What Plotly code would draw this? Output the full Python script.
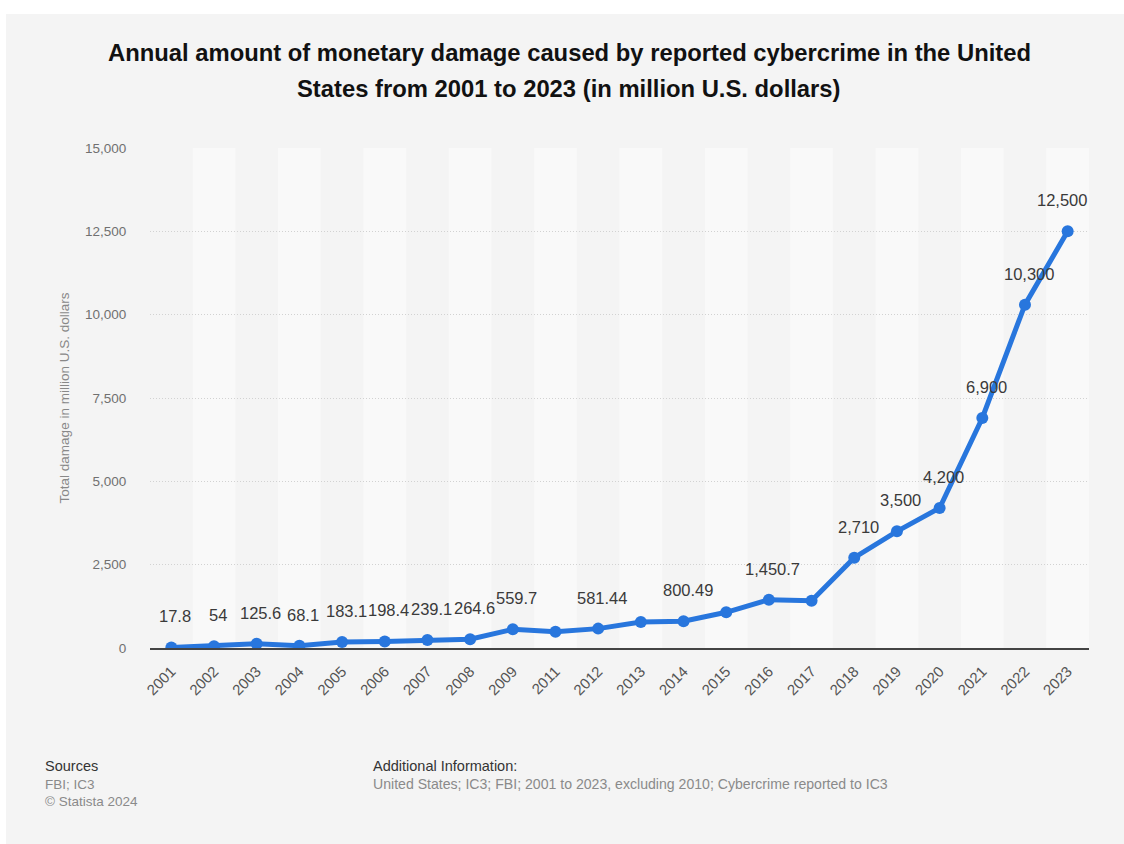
import plotly.graph_objects as go

years = ["2001", "2002", "2003", "2004", "2005", "2006", "2007", "2008", "2009",
         "2011", "2012", "2013", "2014", "2015", "2016", "2017", "2018", "2019",
         "2020", "2021", "2022", "2023"]
damage = [17.8, 54, 125.6, 68.1, 183.1, 198.4, 239.1, 264.6, 559.7,
          485.3, 581.44, 781.84, 800.49, 1070.71, 1450.7, 1418.7, 2710, 3500,
          4200, 6900, 10300, 12500]
point_labels = ["17.8", "54", "125.6", "68.1", "183.1", "198.4", "239.1", "264.6", "559.7",
                "", "581.44", "", "800.49", "", "1,450.7", "", "2,710", "3,500",
                "4,200", "6,900", "10,300", "12,500"]
y_ticks = [0, 2500, 5000, 7500, 10000, 12500, 15000]

title_lines = ["Annual amount of monetary damage caused by reported cybercrime in the United",
               "States from 2001 to 2023 (in million U.S. dollars)"]
y_title = "Total damage in million U.S. dollars"
sources_head = "Sources"
sources_lines = ["FBI; IC3", "© Statista 2024"]
info_head = "Additional Information:"
info_text = "United States; IC3; FBI; 2001 to 2023, excluding 2010; Cybercrime reported to IC3"

FONT = "Liberation Sans, Arial, sans-serif"
W, H = 1124, 844
ML, MR, MT, MB = 150, 35, 148, 196
PW = W - ML - MR
PH = H - MT - MB


def px_x(px):
    return (px - ML) / PW


def px_y(py):
    return (H - MB - py) / PH


fig = go.Figure()
fig.add_trace(go.Scatter(
    x=years, y=damage, mode="lines+markers",
    line=dict(color="#2876dd", width=5),
    marker=dict(color="#2876dd", size=12),
    hoverinfo="x+y", showlegend=False,
))

shapes = [dict(type="rect", xref="paper", yref="paper",
               x0=px_x(6), x1=px_x(W), y0=px_y(H), y1=px_y(14),
               fillcolor="#f4f4f4", line=dict(width=0), layer="below")]
for i, yr in enumerate(years):
    if i % 2 == 1:
        shapes.append(dict(type="rect", xref="x", yref="paper",
                           x0=i - 0.5, x1=i + 0.5, y0=0, y1=1,
                           fillcolor="#f9f9f9", line=dict(width=0), layer="below"))

annotations = []
last = len(damage) - 1
for i, (v, lab) in enumerate(zip(damage, point_labels)):
    if lab:
        annotations.append(dict(xref="x", yref="y", x=i, y=v, text=lab, showarrow=False,
                                xshift=(-6 if i == last else 4), yshift=31,
                                xanchor="center", yanchor="middle",
                                font=dict(family=FONT, size=16.5, color="#3a3a3a")))

annotations.append(dict(xref="paper", yref="paper", x=px_x(569), y=px_y(52),
                        text="<b>" + title_lines[0] + "</b>", showarrow=False,
                        xanchor="center", yanchor="middle",
                        font=dict(family=FONT, size=23.8, color="#111111")))
annotations.append(dict(xref="paper", yref="paper", x=px_x(569), y=px_y(89),
                        text="<b>" + title_lines[1] + "</b>", showarrow=False,
                        xanchor="center", yanchor="middle",
                        font=dict(family=FONT, size=23.8, color="#111111")))

annotations.append(dict(xref="paper", yref="paper", x=px_x(43), y=px_y(766),
                        text=sources_head, showarrow=False, xanchor="left", yanchor="middle",
                        font=dict(family=FONT, size=14.5, color="#333333")))
for j, s in enumerate(sources_lines):
    annotations.append(dict(xref="paper", yref="paper", x=px_x(43), y=px_y(784 + 17 * j),
                            text=s, showarrow=False, xanchor="left", yanchor="middle",
                            font=dict(family=FONT, size=13.5, color="#8a8a8a")))
annotations.append(dict(xref="paper", yref="paper", x=px_x(371), y=px_y(766),
                        text=info_head, showarrow=False, xanchor="left", yanchor="middle",
                        font=dict(family=FONT, size=14.5, color="#333333")))
annotations.append(dict(xref="paper", yref="paper", x=px_x(371), y=px_y(784),
                        text=info_text, showarrow=False, xanchor="left", yanchor="middle",
                        font=dict(family=FONT, size=14.1, color="#8a8a8a")))

fig.update_layout(
    width=W, height=H,
    margin=dict(l=ML, r=MR, t=MT, b=MB),
    paper_bgcolor="#ffffff",
    plot_bgcolor="rgba(0,0,0,0)",
    shapes=shapes,
    annotations=annotations,
    font=dict(family=FONT),
    xaxis=dict(
        type="category", categoryorder="array", categoryarray=years,
        tickangle=-45, tickfont=dict(family=FONT, size=15, color="#555555"),
        showgrid=False, showline=True, linecolor="#444444", linewidth=1.5,
        ticks="outside", ticklen=7, tickcolor="rgba(0,0,0,0)",
        range=[-0.5, len(years) - 0.5], fixedrange=True,
    ),
    yaxis=dict(
        range=[0, 15000], tickvals=y_ticks, tickformat=",",
        tickfont=dict(family=FONT, size=13.5, color="#707070"),
        showgrid=True, gridcolor="#d2d2d2", griddash="1px,2px", gridwidth=1,
        zeroline=False, ticks="outside", ticklen=20, tickcolor="rgba(0,0,0,0)",
        title=dict(text=y_title, font=dict(family=FONT, size=13.5, color="#888888"), standoff=12),
        fixedrange=True,
    ),
)

fig.write_html("out.html")
